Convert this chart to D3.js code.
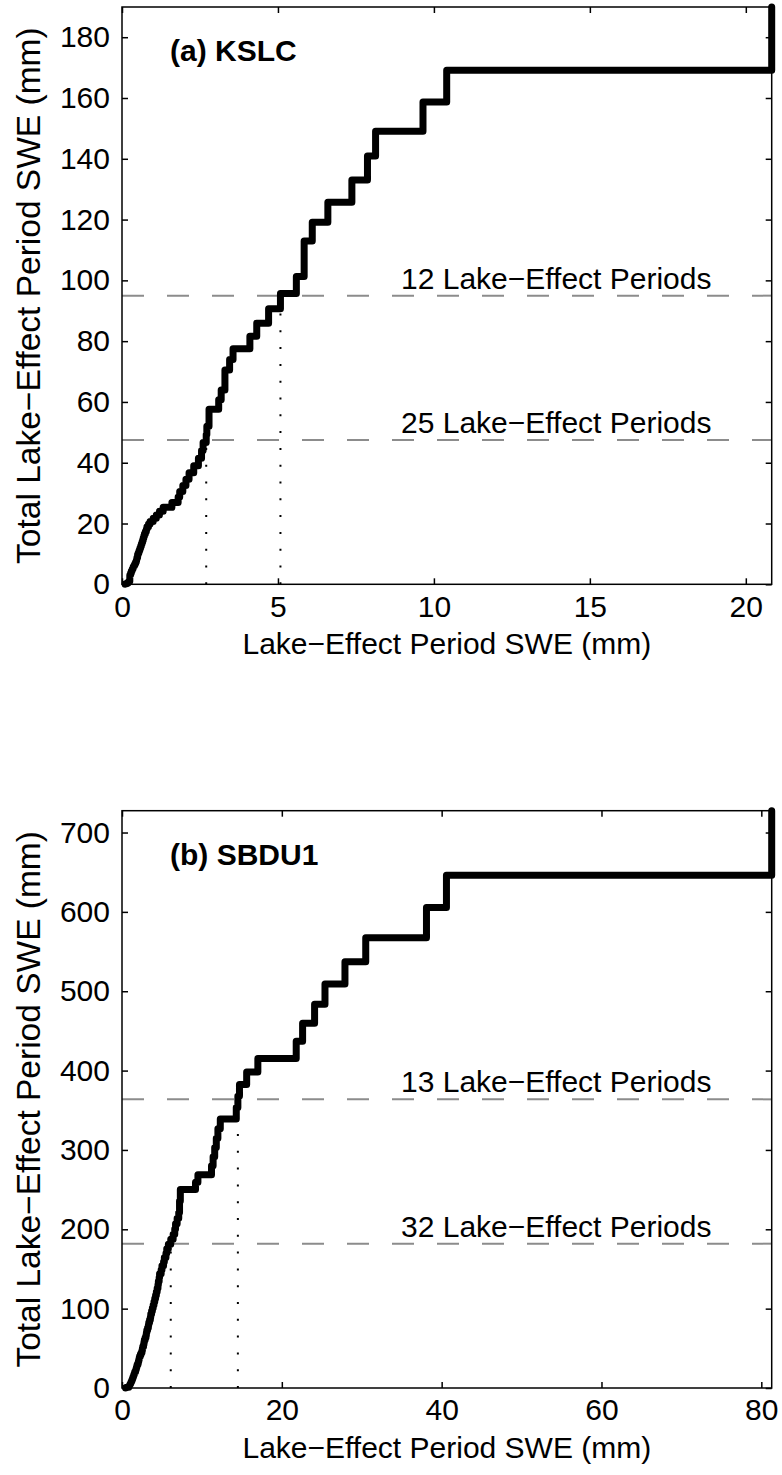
<!DOCTYPE html>
<html>
<head>
<meta charset="utf-8">
<script src="https://cdnjs.cloudflare.com/ajax/libs/d3/7.8.5/d3.min.js"></script>
<style>
body { margin: 0; background: #fff; }
text { font-family: "Liberation Sans", Arial, Helvetica, sans-serif; }
</style>
</head>
<body>
<script>
// SWE of each lake-effect period (mm), largest first
var kslcSwe = [20.83, 10.41, 9.65, 8.13, 7.87, 7.37, 6.60, 6.10, 5.84, 5.84, 5.59, 5.08, 4.70, 4.32, 4.10,
    3.56, 3.45, 3.30, 3.30, 3.18, 3.10, 2.79, 2.79, 2.72, 2.70,
    2.6, 2.55, 2.45, 2.3, 2.15, 2.05, 1.95, 1.85, 1.8, 1.6, 1.32, 1.2, 1.1, 1.0, 0.9, 0.85, 0.8, 0.78,
    0.75, 0.72, 0.7, 0.68, 0.66, 0.64, 0.62, 0.6, 0.58, 0.56, 0.54, 0.52, 0.5, 0.5, 0.48, 0.47, 0.46,
    0.44, 0.42, 0.4, 0.38, 0.36, 0.35, 0.33, 0.32, 0.3, 0.3, 0.28, 0.28, 0.26, 0.25, 0.25, 0.25, 0.25,
    0.25, 0.25, 0.25, 0.25, 0.22, 0.2, 0.18, 0.15, 0.12, 0.1];
var sbduSwe = [81.3, 40.6, 38.1, 30.5, 27.9, 25.4, 24.1, 22.6, 21.8, 17.0, 15.6, 14.7, 14.5, 14.3,
    12.3, 12.0, 11.8, 11.6, 11.4, 11.2, 9.5, 9.2, 7.3, 7.3, 7.2, 7.2, 7.1, 6.9, 6.7, 6.6, 6.4, 6.1,
    5.8, 5.6, 5.5, 5.3, 5.2, 5.0, 4.9, 4.7, 4.65, 4.55, 4.5, 4.4, 4.3, 4.2, 4.1, 4.0, 3.9, 3.8,
    3.7, 3.6, 3.55, 3.45, 3.35, 3.3, 3.2, 3.1, 3.05, 3.0, 2.9, 2.8, 2.75, 2.7, 2.6, 2.55, 2.5, 2.4,
    2.3, 2.2, 2.15, 2.1, 2.05, 2.0, 1.9, 1.85, 1.8, 1.75, 1.7, 1.6, 1.55, 1.5, 1.45, 1.4, 1.35, 1.3,
    1.25, 1.2, 1.15, 1.1, 1.05, 1.0, 0.95, 0.9, 0.85, 0.55, 0.45];

var kslcXTicks = [0, 5, 10, 15, 20];
var kslcYTicks = [0, 20, 40, 60, 80, 100, 120, 140, 160, 180];
var sbduXTicks = [0, 20, 40, 60, 80];
var sbduYTicks = [0, 100, 200, 300, 400, 500, 600, 700];

var panelTitles = ["(a) KSLC", "(b) SBDU1"];
var kslcNotes = ["12 Lake\u2212Effect Periods", "25 Lake\u2212Effect Periods"];
var sbduNotes = ["13 Lake\u2212Effect Periods", "32 Lake\u2212Effect Periods"];
var fractions = [0.5, 0.25];

var xLabel = "Lake\u2212Effect Period SWE (mm)";
var yLabel = "Total Lake\u2212Effect Period SWE (mm)";

var W = 782, H = 1475;
var left = 122, pw = 649.7, ph = 577.3;
var fs = 30;

var svg = d3.select("body")
    .append("svg")
    .attr("width", W)
    .attr("height", H);

function drawPanel(top, swe, xTicks, yTicks, title, notes) {
    var asc = swe.slice().sort(d3.ascending);
    var desc = swe.slice().sort(d3.descending);
    var total = d3.sum(asc);

    var x = d3.scaleLinear().domain([0, d3.max(asc)]).range([left, left + pw]);
    var y = d3.scaleLinear().domain([0, total]).range([top + ph, top]);

    var g = svg.append("g");

    // cumulative stairs
    var pts = [[asc[0], 0]];
    var c = 0;
    asc.forEach(function (v) {
        c += v;
        pts.push([v, c]);
    });

    // dashed reference lines and dotted markers
    fractions.forEach(function (f, i) {
        var level = total * f;
        var acc = 0, cross = desc[0];
        for (var k = 0; k < desc.length; k++) {
            acc += desc[k];
            if (total - acc <= level) { cross = desc[k]; break; }
        }
        g.append("line")
            .attr("x1", x(0)).attr("x2", x.range()[1])
            .attr("y1", y(level)).attr("y2", y(level))
            .attr("stroke", "#8c8c8c")
            .attr("stroke-width", 2)
            .attr("stroke-dasharray", "22,23");
        g.append("line")
            .attr("x1", x(cross)).attr("x2", x(cross))
            .attr("y1", y(0)).attr("y2", y(level))
            .attr("stroke", "#000")
            .attr("stroke-width", 2)
            .attr("stroke-dasharray", "2,14.8");
        g.append("text")
            .attr("x", 401)
            .attr("y", y(level) - 7)
            .attr("font-size", fs)
            .attr("fill", "#000")
            .text(notes[i]);
    });

    g.append("path")
        .datum(pts)
        .attr("fill", "none")
        .attr("stroke", "#000")
        .attr("stroke-width", 7)
        .attr("stroke-linejoin", "round")
        .attr("stroke-linecap", "round")
        .attr("d", d3.line()
            .x(function (d) { return x(d[0]); })
            .y(function (d) { return y(d[1]); })
            .curve(d3.curveStepAfter));

    // axes, ticks pointing inward on all four sides
    g.append("g")
        .attr("transform", "translate(0," + (top + ph) + ")")
        .call(d3.axisBottom(x).tickValues(xTicks).tickSize(-6).tickSizeOuter(0).tickPadding(11));
    g.append("g")
        .attr("transform", "translate(" + left + ",0)")
        .call(d3.axisLeft(y).tickValues(yTicks).tickSize(-6).tickSizeOuter(0).tickPadding(12));
    g.append("g")
        .attr("transform", "translate(0," + top + ")")
        .call(d3.axisTop(x).tickValues(xTicks).tickSize(-6).tickSizeOuter(0).tickFormat(""));
    g.append("g")
        .attr("transform", "translate(" + (left + pw) + ",0)")
        .call(d3.axisRight(y).tickValues(yTicks).tickSize(-6).tickSizeOuter(0).tickFormat(""));

    g.selectAll(".domain").remove();
    g.selectAll(".tick line").attr("stroke", "#000").attr("stroke-width", 1.5);
    g.selectAll(".tick text")
        .attr("font-size", fs)
        .attr("font-family", "'Liberation Sans', Arial, Helvetica, sans-serif")
        .attr("fill", "#000");

    g.append("rect")
        .attr("x", left).attr("y", top)
        .attr("width", pw).attr("height", ph)
        .attr("fill", "none")
        .attr("stroke", "#000")
        .attr("stroke-width", 1.5);

    g.append("text")
        .attr("x", left + 48)
        .attr("y", top + 54)
        .attr("font-size", fs)
        .attr("font-weight", "bold")
        .text(title);

    g.append("text")
        .attr("x", left + pw / 2)
        .attr("y", top + ph + 70)
        .attr("text-anchor", "middle")
        .attr("font-size", fs)
        .text(xLabel);

    g.append("text")
        .attr("transform", "translate(40," + (top + ph / 2) + ") rotate(-90)")
        .attr("text-anchor", "middle")
        .attr("font-size", 33.5)
        .text(yLabel);
}

drawPanel(7, kslcSwe, kslcXTicks, kslcYTicks, panelTitles[0], kslcNotes);
drawPanel(810.7, sbduSwe, sbduXTicks, sbduYTicks, panelTitles[1], sbduNotes);
</script>
</body>
</html>
